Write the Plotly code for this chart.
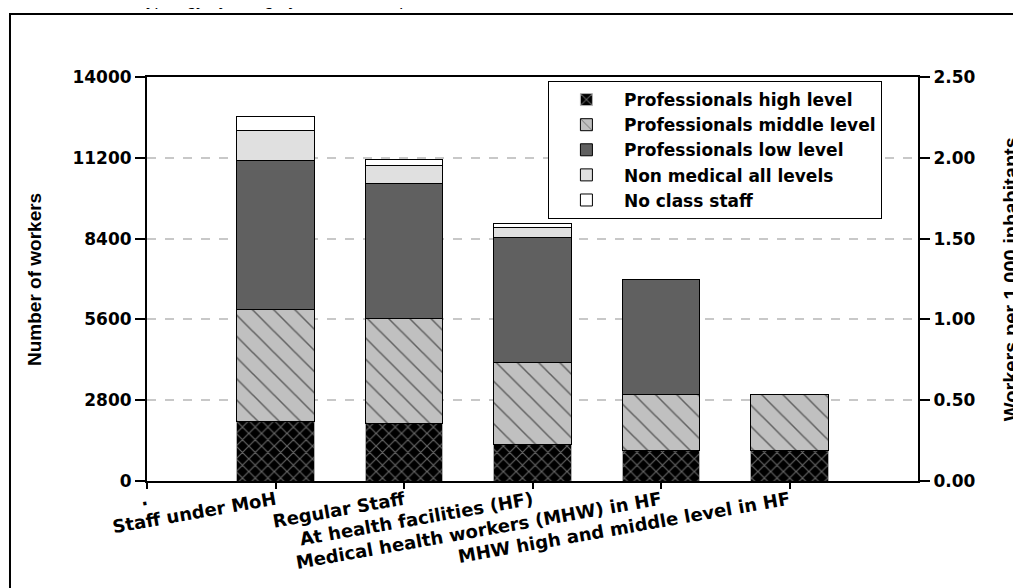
import plotly.graph_objects as go

# ============================
# data

categories = [
    "Staff under MoH",
    "Regular Staff",
    "At health facilities (HF)",
    "Medical health workers (MHW) in HF",
    "MHW high and middle level in HF",
]
positions = [1, 2, 3, 4, 5]

prof_high = [2075, 2010, 1260, 1055, 1055]
prof_middle = [3870, 3610, 2860, 1945, 1945]
prof_low = [5150, 4680, 4325, 3980, 0]
non_medical = [1065, 650, 355, 0, 0]
no_class = [470, 175, 140, 0, 0]

series_names = [
    "Professionals high level",
    "Professionals middle level",
    "Professionals low level",
    "Non medical all levels",
    "No class staff",
]

left_ticks = [0, 2800, 5600, 8400, 11200, 14000]
right_ticks = [0, 0.5, 1.0, 1.5, 2.0, 2.5]

# ============================

# the page adds an 8px body margin, so the figure is kept 8px smaller
width_px = 1013
height_px = 580


def bold_font(size):
    return dict(family="DejaVu Sans", size=size, color="black", weight="bold")


title_font = "Liberation Sans, Arial, sans-serif"

base_layout = dict(
    width=width_px,
    height=height_px,
    plot_bgcolor="white",
    paper_bgcolor="white",
    font=dict(family="DejaVu Sans", size=15, color="black"),
    barmode="stack",
    showlegend=True,
    margin=dict(l=139, r=103, t=69, b=107),
)

axis_common = dict(
    ticks="outside",
    ticklen=10,
    tickwidth=1.5,
    tickcolor="black",
    showline=True,
    linecolor="black",
    linewidth=2,
    zeroline=False,
)


def __prep_bars__():

    styles = [
        dict(color="black", pattern=dict(shape="x", bgcolor="black", fgcolor="#c8c8c8",
                                         size=9, solidity=0.25),
             line=dict(color="#b0b0b0", width=1)),
        dict(color="#c0c0c0", pattern=dict(shape="\\", bgcolor="#c0c0c0", fgcolor="black",
                                           size=15, solidity=0.1),
             line=dict(color="black", width=1)),
        dict(color="#606060", line=dict(color="black", width=1)),
        dict(color="#e0e0e0", line=dict(color="black", width=1)),
        dict(color="white", line=dict(color="black", width=1)),
    ]
    values = [prof_high, prof_middle, prof_low, non_medical, no_class]

    traces = []
    for name, vals, style in zip(series_names, values, styles):
        traces.append(go.Bar(
            x=positions,
            y=vals,
            name=name,
            width=0.6,
            marker=style,
        ))

    # hidden trace so that the right-hand axis (workers per 1.000) is drawn
    per_unit = left_ticks[-1] / right_ticks[-1]
    totals = [sum(v) for v in zip(*values)]
    traces.append(go.Scatter(
        x=positions,
        y=[t / per_unit for t in totals],
        yaxis="y2",
        mode="markers",
        marker=dict(opacity=0),
        showlegend=False,
        hoverinfo="skip",
    ))
    return traces


def staff_plot():

    figure = go.Figure()
    for trace in __prep_bars__():
        figure.add_trace(trace)

    figure.update_layout(base_layout)

    figure.update_layout(

        # X axis
        xaxis=dict(
            axis_common,
            range=[0, 6],
            tickvals=[0] + positions,
            ticktext=["."] + categories,
            tickangle=-10,
            tickfont=bold_font(18),
            ticklen=6,
            ticklabelstandoff=-6,
            mirror=True,
            showgrid=False,
        ),

        # left Y axis
        yaxis=dict(
            axis_common,
            range=[0, 14000],
            tickvals=left_ticks,
            ticktext=[str(v) for v in left_ticks],
            tickfont=bold_font(17),
            mirror=True,
            showgrid=True,
            gridcolor="#c8c8c8",
            gridwidth=1.5,
            griddash="dash",
        ),

        # right Y axis
        yaxis2=dict(
            axis_common,
            overlaying="y",
            side="right",
            range=[0, 2.5],
            tickvals=right_ticks,
            tickformat=".2f",
            tickfont=bold_font(17),
            showgrid=False,
        ),

        # legend
        legend=dict(
            x=0.52,
            xanchor="left",
            y=0.99,
            yanchor="top",
            bgcolor="white",
            bordercolor="black",
            borderwidth=1,
            font=bold_font(17),
            tracegroupgap=0,
            traceorder="normal",
            itemwidth=65,
        ),
    )

    # axis titles
    figure.add_annotation(
        text="<b>Number of workers</b>",
        textangle=-90,
        xref="paper", yref="paper",
        x=-0.1466, y=0.5,
        xanchor="center", yanchor="middle",
        showarrow=False,
        font=dict(family=title_font, size=19, color="black"),
    )
    figure.add_annotation(
        text="<b>Workers per 1.000 inhabitants</b>",
        textangle=-90,
        xref="paper", yref="paper",
        x=1.121, y=0.5,
        xanchor="center", yanchor="middle",
        showarrow=False,
        font=dict(family=title_font, size=20, color="black"),
    )

    # caption above the frame, mostly outside the page
    figure.add_annotation(
        text="<i>Staff typology by category and level of qualification</i>",
        xref="paper", yref="paper",
        x=-0.06, y=1.161,
        xanchor="left", yanchor="bottom",
        showarrow=False,
        font=dict(family="Liberation Sans", size=17, color="black"),
    )

    # outer frame
    figure.add_shape(
        type="rect",
        xref="paper", yref="paper",
        x0=-0.1777, x1=1.4,
        y0=-0.6, y1=1.156,
        line=dict(color="black", width=2),
        fillcolor="rgba(0,0,0,0)",
        layer="below",
    )

    return figure


fig = staff_plot()
fig.write_html("out.html")
